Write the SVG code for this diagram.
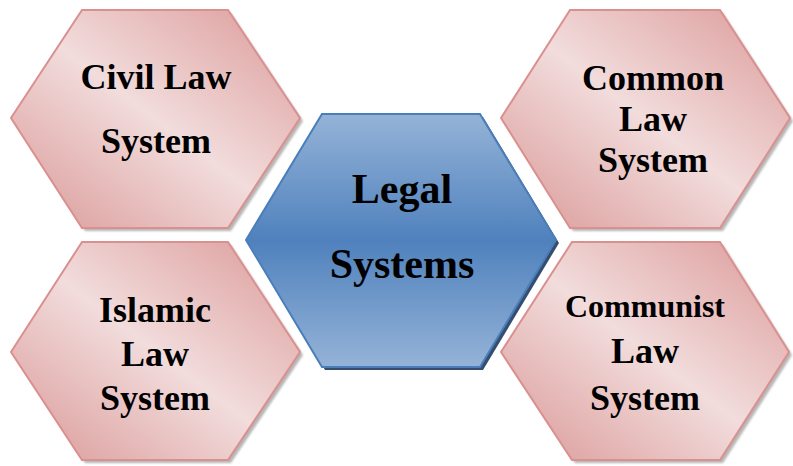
<svg xmlns="http://www.w3.org/2000/svg" width="793" height="466" viewBox="0 0 793 466">
<defs>
<linearGradient id="pink" x1="1" y1="0" x2="0" y2="1">
<stop offset="0" stop-color="#DB9A98"/>
<stop offset="0.5" stop-color="#F2DCDC"/>
<stop offset="1" stop-color="#D99896"/>
</linearGradient>
<linearGradient id="blue" x1="0" y1="0" x2="0" y2="1">
<stop offset="0" stop-color="#95B3D7"/>
<stop offset="0.5" stop-color="#4F81BD"/>
<stop offset="1" stop-color="#95B3D7"/>
</linearGradient>
<filter id="blur" x="-10%" y="-10%" width="120%" height="120%">
<feGaussianBlur stdDeviation="1"/>
</filter>
</defs>
<style>
.pk{fill:url(#pink);stroke:#D9908F;stroke-width:2;stroke-linejoin:miter}
.pksh{fill:#7a7a7a;opacity:.55}
.bl{fill:url(#blue);stroke:#4A7EBB;stroke-width:2}
.blsh{fill:#1F3A5F;opacity:.9}
text{font-family:"Liberation Serif","Times New Roman",serif;font-weight:bold;fill:#000;text-anchor:middle}
.t{font-size:36px}
.ts{font-size:32px}
.tc{font-size:42px}
</style>
<rect width="793" height="466" fill="#fff"/>
<g id="civil">
<polygon class="pksh" filter="url(#blur)" transform="translate(3,3)" points="82,10 228,10 300,118 228,228 82,228 11,118"/>
<polygon class="pk" points="82,10 228,10 300,118 228,228 82,228 11,118"/>
<text class="t" x="156" y="89">Civil Law</text>
<text class="t" x="156" y="153">System</text>
</g>
<g id="common">
<polygon class="pksh" filter="url(#blur)" transform="translate(3,3)" points="570,10 720,10 790,118 720,228 570,228 501,118"/>
<polygon class="pk" points="570,10 720,10 790,118 720,228 570,228 501,118"/>
<text class="t" x="653" y="90">Common</text>
<text class="t" x="653" y="131">Law</text>
<text class="t" x="653" y="172">System</text>
</g>
<g id="islamic">
<polygon class="pksh" filter="url(#blur)" transform="translate(3,3)" points="82,242 228,242 300,352 228,460 82,460 11,352"/>
<polygon class="pk" points="82,242 228,242 300,352 228,460 82,460 11,352"/>
<text class="t" x="155" y="322">Islamic</text>
<text class="t" x="155" y="366">Law</text>
<text class="t" x="155" y="410">System</text>
</g>
<g id="communist">
<polygon class="pksh" filter="url(#blur)" transform="translate(3,3)" points="572,242 720,242 789,352 720,460 572,460 501,352"/>
<polygon class="pk" points="572,242 720,242 789,352 720,460 572,460 501,352"/>
<text class="ts" x="645" y="317">Communist</text>
<text class="t" x="645" y="363">Law</text>
<text class="t" x="645" y="410">System</text>
</g>
<g id="legal">
<polygon class="blsh" transform="translate(3,3)" points="322,114 480,114 556,240 480,367 322,367 246,240"/>
<polygon class="bl" points="322,114 480,114 556,240 480,367 322,367 246,240"/>
<text class="tc" x="402" y="203">Legal</text>
<text class="tc" x="402" y="278">Systems</text>
</g>
<g id="connectors"/>
</svg>
